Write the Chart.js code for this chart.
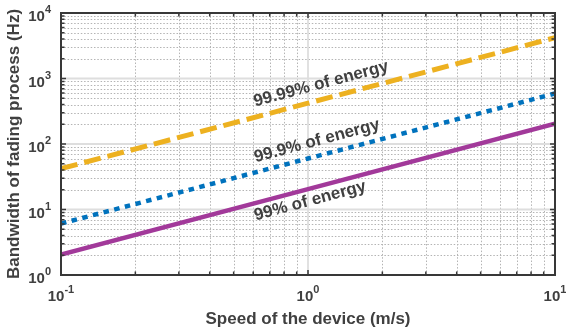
<!DOCTYPE html>
<html>
<head>
<meta charset="utf-8">
<script src="https://cdn.jsdelivr.net/npm/chart.js@4/dist/chart.umd.min.js"></script>
<style>
  html, body { margin: 0; padding: 0; background: #ffffff; }
  #wrap { width: 566px; height: 329px; }
</style>
</head>
<body>
<div id="wrap"><canvas id="c" width="566" height="329"></canvas></div>
<script>
// ---- data ----
const speeds = [0.1, 1, 10];                 // m/s
const bw99 = [2.05, 20.5, 205];              // Hz, 99% of energy
const bw999 = [6.1, 60, 590];                // Hz, 99.9% of energy
const bw9999 = [42, 420, 4200];              // Hz, 99.99% of energy
const xTickValues = [0.1, 1, 10];
const xTickExponents = ['-1', '0', '1'];
const yTickValues = [1, 10, 100, 1000, 10000];
const yTickExponents = ['0', '1', '2', '3', '4'];
const seriesNames = ['99% of energy', '99.9% of energy', '99.99% of energy'];
const xTitle = 'Speed of the device (m/s)';
const yTitle = 'Bandwidth of fading process (Hz)';

// label anchors in data coordinates
const labelAnchors = [
  { text: seriesNames[0], x: 1.02, y: 13.5 },
  { text: seriesNames[1], x: 1.087, y: 111 },
  { text: seriesNames[2], x: 1.13, y: 824 }
];

const TEXT = '#404040';
const FONT = '"Liberation Sans", Arial, Helvetica, sans-serif';

function pts(ys) { return speeds.map((x, i) => ({ x: x, y: ys[i] })); }

function minorValues(min, max) {
  const out = [];
  for (let d = min; d < max; d *= 10) {
    for (let k = 1; k <= 9; k++) out.push({ v: d * k, major: k === 1 });
  }
  out.push({ v: max, major: true });
  return out;
}

const matlabPlugin = {
  id: 'matlabAxes',
  beforeDatasetsDraw(chart) {
    const { ctx, chartArea: a, scales } = chart;
    const xs = scales.x, ys = scales.y;
    ctx.save();
    // minor dotted grid
    ctx.lineWidth = 1;
    ctx.strokeStyle = '#b4b4b4';
    ctx.setLineDash([1.5, 1.8]);
    minorValues(xs.min, xs.max).forEach(t => {
      if (t.major) return;
      const px = Math.round(xs.getPixelForValue(t.v)) + 0.5;
      ctx.beginPath(); ctx.moveTo(px, a.top); ctx.lineTo(px, a.bottom); ctx.stroke();
    });
    minorValues(ys.min, ys.max).forEach(t => {
      if (t.major) return;
      const py = Math.round(ys.getPixelForValue(t.v)) + 0.5;
      ctx.beginPath(); ctx.moveTo(a.left, py); ctx.lineTo(a.right, py); ctx.stroke();
    });
    // major solid grid
    ctx.setLineDash([]);
    ctx.strokeStyle = '#dedede';
    ctx.lineWidth = 1.8;
    xTickValues.forEach(v => {
      const px = xs.getPixelForValue(v);
      ctx.beginPath(); ctx.moveTo(px, a.top); ctx.lineTo(px, a.bottom); ctx.stroke();
    });
    yTickValues.forEach(v => {
      const py = ys.getPixelForValue(v);
      ctx.beginPath(); ctx.moveTo(a.left, py); ctx.lineTo(a.right, py); ctx.stroke();
    });
    ctx.restore();
  },
  afterDatasetsDraw(chart) {
    const { ctx, chartArea: a, scales } = chart;
    const xs = scales.x, ys = scales.y;
    ctx.save();
    // axes box
    ctx.strokeStyle = '#383838';
    ctx.lineWidth = 2;
    ctx.strokeRect(a.left, a.top, a.right - a.left, a.bottom - a.top);
    // inward ticks on all four sides
    ctx.lineWidth = 1.5;
    minorValues(xs.min, xs.max).forEach(t => {
      const px = xs.getPixelForValue(t.v);
      const L = t.major ? 5 : 3.5;
      ctx.beginPath();
      ctx.moveTo(px, a.bottom); ctx.lineTo(px, a.bottom - L);
      ctx.moveTo(px, a.top); ctx.lineTo(px, a.top + L);
      ctx.stroke();
    });
    minorValues(ys.min, ys.max).forEach(t => {
      const py = ys.getPixelForValue(t.v);
      const L = t.major ? 5 : 3.5;
      ctx.beginPath();
      ctx.moveTo(a.left, py); ctx.lineTo(a.left + L, py);
      ctx.moveTo(a.right, py); ctx.lineTo(a.right - L, py);
      ctx.stroke();
    });

    // tick labels 10^n
    const baseFont = 'bold 15px ' + FONT;
    const expFont = 'bold 11px ' + FONT;
    ctx.fillStyle = TEXT;
    ctx.textBaseline = 'middle';
    ctx.textAlign = 'left';
    function pow(exp, x, y, align) {
      ctx.font = baseFont; const wb = ctx.measureText('10').width;
      ctx.font = expFont; const we = ctx.measureText(exp).width;
      const start = align === 'right' ? x - wb - we : x - (wb + we) / 2;
      ctx.font = baseFont; ctx.fillText('10', start, y);
      ctx.font = expFont; ctx.fillText(exp, start + wb, y - 7);
    }
    xTickValues.forEach((v, i) => pow(xTickExponents[i], xs.getPixelForValue(v), a.bottom + 22, 'center'));
    yTickValues.forEach((v, i) => pow(yTickExponents[i], a.left - 10, ys.getPixelForValue(v) + 4, 'right'));

    // axis titles
    ctx.font = 'bold 17px ' + FONT;
    ctx.textAlign = 'center';
    ctx.fillText(xTitle, (a.left + a.right) / 2, 319);
    ctx.save();
    ctx.translate(14, (a.top + a.bottom) / 2);
    ctx.rotate(-Math.PI / 2);
    ctx.fillText(yTitle, 0, 0);
    ctx.restore();

    // in-plot labels
    ctx.font = 'bold 17px ' + FONT;
    labelAnchors.forEach(l => {
      ctx.save();
      ctx.translate(xs.getPixelForValue(l.x), ys.getPixelForValue(l.y));
      ctx.rotate(-15 * Math.PI / 180);
      ctx.fillText(l.text, 0, 0);
      ctx.restore();
    });
    ctx.restore();
  }
};

new Chart(document.getElementById('c'), {
  type: 'line',
  data: {
    datasets: [
      { label: seriesNames[0], data: pts(bw99), borderColor: '#A2399A', borderWidth: 4.5,
        pointRadius: 0, tension: 0, fill: false },
      { label: seriesNames[1], data: pts(bw999), borderColor: '#0072BD', borderWidth: 4.5,
        borderDash: [5.5, 5.5], borderCapStyle: 'butt', pointRadius: 0, tension: 0, fill: false },
      { label: seriesNames[2], data: pts(bw9999), borderColor: '#EDB120', borderWidth: 5,
        borderDash: [17, 7], borderCapStyle: 'butt', pointRadius: 0, tension: 0, fill: false }
    ]
  },
  options: {
    responsive: false,
    animation: false,
    layout: { padding: { left: 61, top: 13, right: 11, bottom: 54 } },
    plugins: { legend: { display: false }, tooltip: { enabled: false } },
    scales: {
      x: { type: 'logarithmic', min: 0.1, max: 10, display: false },
      y: { type: 'logarithmic', min: 1, max: 10000, display: false }
    }
  },
  plugins: [matlabPlugin]
});
</script>
</body>
</html>
